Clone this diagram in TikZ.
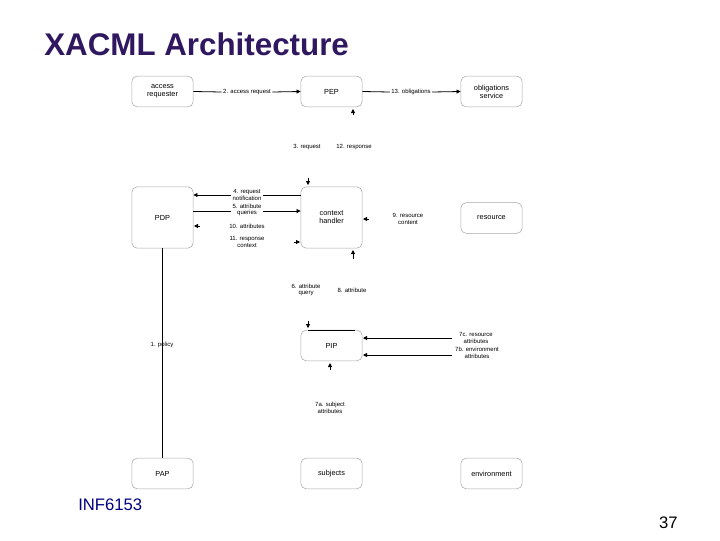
\documentclass[tikz,border=0pt]{standalone}
\usepackage{fontspec}
\setmainfont{Liberation Sans}
\usetikzlibrary{arrows.meta}
\definecolor{ttl}{RGB}{48,24,96}
\begin{document}
\begin{tikzpicture}[x=0.75pt,y=-0.75pt,
 box/.style={draw=gray!70,line width=0.4pt,rounded corners=4pt,align=center,font=\fontsize{5.5}{6}\selectfont,inner sep=0pt},
 lab/.style={font=\fontsize{4.5}{4.8}\selectfont,align=center,inner sep=1pt},
 ln/.style={line width=0.6pt},
 tip/.style={-{Triangle[length=3pt,width=3pt]},line width=0.6pt}]
\useasboundingbox (0,0) rectangle (720,540);
\node[font=\bfseries\fontsize{23.5}{26}\selectfont,text=ttl,anchor=west,inner sep=0pt] (title) at (44,44) {XACML Architecture};
\node[font=\fontsize{12.5}{14}\selectfont,text=blue!50!black,anchor=west,inner sep=0pt] (inf) at (78,505) {INF6153};
\node[font=\fontsize{12.5}{14}\selectfont,anchor=east,inner sep=0pt] (num) at (678,523) {37};
% boxes
\node[box,minimum width=46pt,minimum height=23pt] (ar) at (162.5,91.5) {access\\requester};
\node[box,minimum width=46pt,minimum height=23pt] (pep) at (331.5,91.5) {PEP};
\node[box,minimum width=46pt,minimum height=23pt] (obl) at (491.5,91.5) {obligations\\service};
\node[box,minimum width=46pt,minimum height=46pt] (pdp) at (162.5,217.5) {PDP};
\node[box,minimum width=46pt,minimum height=46pt] (ch) at (331.5,217.5) {context\\handler};
\node[box,minimum width=46pt,minimum height=23pt] (res) at (491.5,218) {resource};
\node[box,minimum width=46pt,minimum height=23pt] (pip) at (331.5,345.5) {PIP};
\node[box,minimum width=46pt,minimum height=23pt] (pap) at (162.5,473.5) {PAP};
\node[box,minimum width=46pt,minimum height=23pt] (sub) at (331.5,473.5) {subjects};
\node[box,minimum width=46pt,minimum height=23pt] (env) at (491.5,473.5) {environment};
% labels
\node[lab] (l2) at (247,92) {2. access request};
\node[lab] (l13) at (411,92) {13. obligations};
\node[lab] (l3) at (307,147) {3. request};
\node[lab] (l12) at (354,147) {12. response};
\node[lab] (l4) at (247,195) {4. request\\notification};
\node[lab] (l5) at (247,210) {5. attribute\\queries};
\node[lab] (l10) at (247,226) {10. attributes};
\node[lab] (l11) at (247,242) {11. response\\context};
\node[lab] (l9) at (408,219) {9. resource\\content};
\node[lab] (l1) at (162,345) {1. policy};
\node[lab] (l6) at (306,290) {6. attribute\\query};
\node[lab] (l8) at (352,290) {8. attribute};
\node[lab] (l7c) at (476,338) {7c. resource\\attributes};
\node[lab] (l7b) at (477,353) {7b. environment\\attributes};
\node[lab] (l7a) at (330,408) {7a. subject\\attributes};
% connectors
\draw[ln] (ar.east) -- (l2.west);
\draw[tip] (l2.east) -- (pep.west);
\draw[ln] (pep.east) -- (l13.west);
\draw[tip] (l13.east) -- (obl.west);
\draw[tip] (353,115) -- (353,109);
\draw[tip] (308,178) -- (308,185);
\draw[ln] (ch.west|-0,195) -- (l4.east|-0,195);
\draw[tip] (l4.west|-0,195) -- (pdp.east|-0,195);
\draw[ln] (pdp.east|-0,211) -- (l5.west|-0,211);
\draw[tip] (l5.east|-0,211) -- (ch.west|-0,211);
\draw[tip] (200,226) -- (194,226);
\draw[tip] (294,242) -- (300,242);
\draw[tip] (369,219) -- (363,219);
\draw[tip] (353,259) -- (353,250);
\draw[ln] (pdp.south) -- (pap.north);
\draw[tip] (308,321) -- (308,328);
\draw[ln] (308,330) -- (355,330);
\draw[tip] (452,338) -- (363,338);
\draw[tip] (452,355) -- (363,355);
\draw[tip] (330,370) -- (330,363);
\end{tikzpicture}
\end{document}
